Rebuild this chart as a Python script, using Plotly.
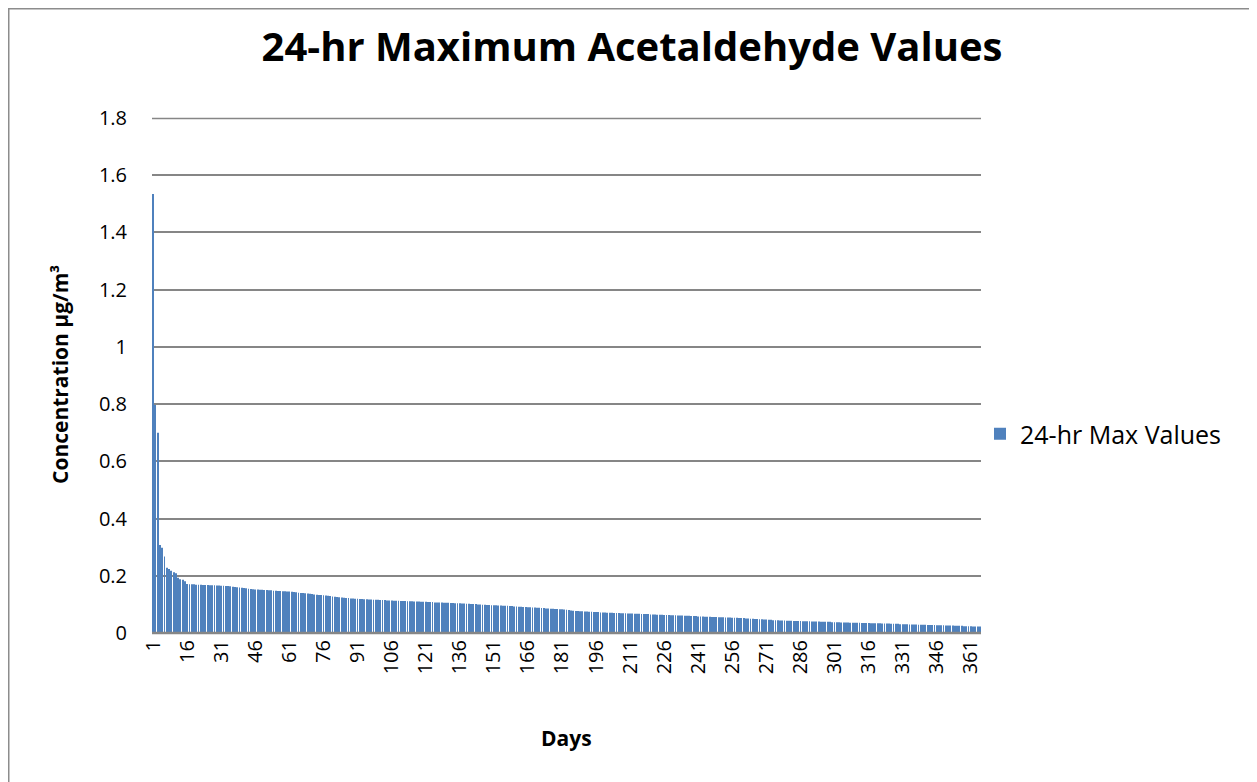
import plotly.graph_objects as go

# ---- data (sorted descending) ----
days = list(range(1, 366))

vals_001_016 = [1.534, 0.797, 0.700, 0.308, 0.298, 0.267, 0.228, 0.224, 0.218, 0.212,
                0.209, 0.193, 0.188, 0.186, 0.181, 0.171]
vals_017_032 = [0.170, 0.170, 0.170, 0.169, 0.169, 0.169, 0.168, 0.168, 0.168, 0.167,
                0.167, 0.167, 0.166, 0.166, 0.165, 0.165]
vals_033_040 = [0.164, 0.164, 0.163, 0.162, 0.161, 0.160, 0.159, 0.158]
vals_041_050 = [0.157, 0.156, 0.155, 0.154, 0.153, 0.152, 0.152, 0.151, 0.151, 0.150]
vals_051_062 = [0.150, 0.149, 0.149, 0.148, 0.148, 0.147, 0.147, 0.146, 0.146, 0.145,
                0.145, 0.144]
vals_063_075 = [0.143, 0.142, 0.141, 0.140, 0.140, 0.139, 0.138, 0.137, 0.136, 0.135,
                0.134, 0.133, 0.133]
vals_076_090 = [0.132, 0.131, 0.130, 0.129, 0.128, 0.127, 0.126, 0.125, 0.124, 0.123,
                0.122, 0.122, 0.121, 0.121, 0.120]
vals_091_100 = [0.120, 0.119, 0.119, 0.118, 0.118, 0.117, 0.117, 0.116, 0.116, 0.116]
vals_101_115 = [0.115, 0.115, 0.115, 0.114, 0.114, 0.114, 0.113, 0.113, 0.113, 0.112,
                0.112, 0.112, 0.111, 0.111, 0.111]
vals_116_128 = [0.110, 0.110, 0.110, 0.109, 0.109, 0.109, 0.108, 0.108, 0.108, 0.107,
                0.107, 0.107, 0.107]
vals_129_142 = [0.106, 0.106, 0.106, 0.105, 0.105, 0.104, 0.104, 0.104, 0.103, 0.103,
                0.102, 0.102, 0.101, 0.101]
vals_143_157 = [0.101, 0.100, 0.100, 0.099, 0.099, 0.098, 0.098, 0.097, 0.097, 0.097,
                0.096, 0.096, 0.095, 0.095, 0.095]
vals_158_170 = [0.094, 0.094, 0.093, 0.093, 0.092, 0.092, 0.091, 0.091, 0.090, 0.090,
                0.089, 0.089, 0.088]
vals_171_190 = [0.088, 0.087, 0.087, 0.086, 0.086, 0.085, 0.085, 0.084, 0.084, 0.083,
                0.083, 0.082, 0.081, 0.080, 0.079, 0.078, 0.077, 0.077, 0.076, 0.076]
vals_191_211 = [0.075, 0.075, 0.074, 0.074, 0.073, 0.073, 0.073, 0.072, 0.072, 0.072,
                0.071, 0.071, 0.071, 0.070, 0.070, 0.070, 0.069, 0.069, 0.069, 0.068,
                0.068]
vals_212_234 = [0.068, 0.067, 0.067, 0.067, 0.066, 0.066, 0.066, 0.066, 0.065, 0.065,
                0.065, 0.064, 0.064, 0.064, 0.063, 0.063, 0.063, 0.062, 0.062, 0.062,
                0.061, 0.061, 0.061]
vals_235_256 = [0.060, 0.060, 0.060, 0.059, 0.059, 0.059, 0.058, 0.058, 0.058, 0.057,
                0.057, 0.057, 0.056, 0.056, 0.056, 0.055, 0.055, 0.055, 0.054, 0.054,
                0.054, 0.053]
vals_257_278 = [0.053, 0.053, 0.052, 0.052, 0.052, 0.051, 0.051, 0.050, 0.050, 0.049,
                0.049, 0.048, 0.048, 0.047, 0.047, 0.046, 0.046, 0.045, 0.045, 0.045,
                0.044, 0.044]
vals_279_300 = [0.044, 0.043, 0.043, 0.043, 0.042, 0.042, 0.042, 0.042, 0.041, 0.041,
                0.041, 0.041, 0.040, 0.040, 0.040, 0.040, 0.039, 0.039, 0.039, 0.039,
                0.039, 0.038]
vals_301_322 = [0.038, 0.038, 0.038, 0.037, 0.037, 0.037, 0.037, 0.036, 0.036, 0.036,
                0.036, 0.036, 0.035, 0.035, 0.035, 0.035, 0.034, 0.034, 0.034, 0.034,
                0.034, 0.033]
vals_323_344 = [0.033, 0.033, 0.033, 0.032, 0.032, 0.032, 0.032, 0.031, 0.031, 0.031,
                0.031, 0.030, 0.030, 0.030, 0.030, 0.029, 0.029, 0.029, 0.029, 0.028,
                0.028, 0.028]
vals_345_365 = [0.028, 0.027, 0.027, 0.027, 0.027, 0.026, 0.026, 0.026, 0.026, 0.025,
                0.025, 0.025, 0.025, 0.024, 0.024, 0.024, 0.024, 0.023, 0.023, 0.023,
                0.023]

max_values = (vals_001_016 + vals_017_032 + vals_033_040 + vals_041_050 + vals_051_062
              + vals_063_075 + vals_076_090 + vals_091_100 + vals_101_115 + vals_116_128
              + vals_129_142 + vals_143_157 + vals_158_170 + vals_171_190 + vals_191_211
              + vals_212_234 + vals_235_256 + vals_257_278 + vals_279_300 + vals_301_322
              + vals_323_344 + vals_345_365)

x_tick_days = list(range(1, 366, 15))
x_tick_labels = [str(d) for d in x_tick_days]
y_tick_vals = [0, 0.2, 0.4, 0.6, 0.8, 1.0, 1.2, 1.4, 1.6, 1.8]
y_tick_labels = ["0", "0.2", "0.4", "0.6", "0.8", "1", "1.2", "1.4", "1.6", "1.8"]
y_max = 1.8

series_name = "24-hr Max Values"
title_text = "24-hr Maximum Acetaldehyde Values"
x_title = "Days"
y_title = "Concentration µg/m³"

# ---- layout geometry (figure pixels; page adds an 8px body margin) ----
W, H = 1257, 782
OFF = 8
L, R, T, B = 152 - OFF, 981 - OFF, 118 - OFF, 633 - OFF
pw, ph = R - L, B - T

def px_x(sx):  # screen x -> paper
    return (sx - OFF - L) / pw

def px_y(sy):  # screen y -> paper
    return (B - (sy - OFF)) / ph

FONT = "Open Sans"
GRID = "#868686"

fig = go.Figure()
fig.add_trace(go.Bar(
    x=days, y=max_values, name=series_name,
    marker=dict(color="#4F81BD", line=dict(width=0)),
    showlegend=True,
))

fig.update_layout(
    width=W, height=H,
    margin=dict(l=L, r=W - R, t=T, b=H - B, pad=0),
    paper_bgcolor="white", plot_bgcolor="white",
    bargap=0.62,
    font=dict(family=FONT, size=20, color="black"),
    title=dict(text="<b>" + title_text + "</b>", x=(632 - OFF) / W, xref="container",
               xanchor="center", y=1 - (47 - OFF) / H, yref="container", yanchor="middle",
               font=dict(family=FONT, size=40, color="black")),
    xaxis=dict(range=[0.5, 365.5], tickmode="array", tickvals=x_tick_days,
               ticktext=x_tick_labels, tickangle=-90, showgrid=False,
               showline=False, ticks="",
               ticklabelstandoff=2, zeroline=False,
               tickfont=dict(family=FONT, size=20)),
    yaxis=dict(range=[0, y_max], tickmode="array", tickvals=y_tick_vals,
               ticktext=y_tick_labels, showgrid=True, gridcolor=GRID,
               gridwidth=1.5, showline=False, ticks="", zeroline=False,
               ticklabelstandoff=24, tickfont=dict(family=FONT, size=20)),
    legend=dict(x=px_x(980), y=px_y(434), xanchor="left", yanchor="middle",
                font=dict(family=FONT, size=25), bgcolor="rgba(0,0,0,0)",
                itemwidth=30),
    annotations=[
        dict(text="<b>" + x_title + "</b>", xref="paper", yref="paper",
             x=0.5, y=px_y(738), xanchor="center", yanchor="middle",
             showarrow=False, font=dict(family=FONT, size=21)),
        dict(text="<b>" + y_title + "</b>", xref="paper", yref="paper",
             x=px_x(60), y=px_y(375), xanchor="center", yanchor="middle",
             textangle=-90, showarrow=False, font=dict(family=FONT, size=21)),
    ],
    shapes=[
        # chart-area border
        dict(type="rect", xref="paper", yref="paper",
             x0=px_x(8.75), x1=px_x(1275), y0=px_y(800), y1=px_y(8.75),
             line=dict(color="#8C8C8C", width=1.5), fillcolor="rgba(0,0,0,0)",
             layer="below"),
        # top gridline at axis maximum
        dict(type="line", xref="paper", yref="paper", x0=0, x1=1,
             y0=px_y(118.5), y1=px_y(118.5),
             line=dict(color=GRID, width=1.5), layer="above"),
        # category axis line
        dict(type="line", xref="paper", yref="paper", x0=0, x1=1,
             y0=px_y(633), y1=px_y(633),
             line=dict(color=GRID, width=2.5), layer="above"),
    ],
)

fig.write_html("out.html")
